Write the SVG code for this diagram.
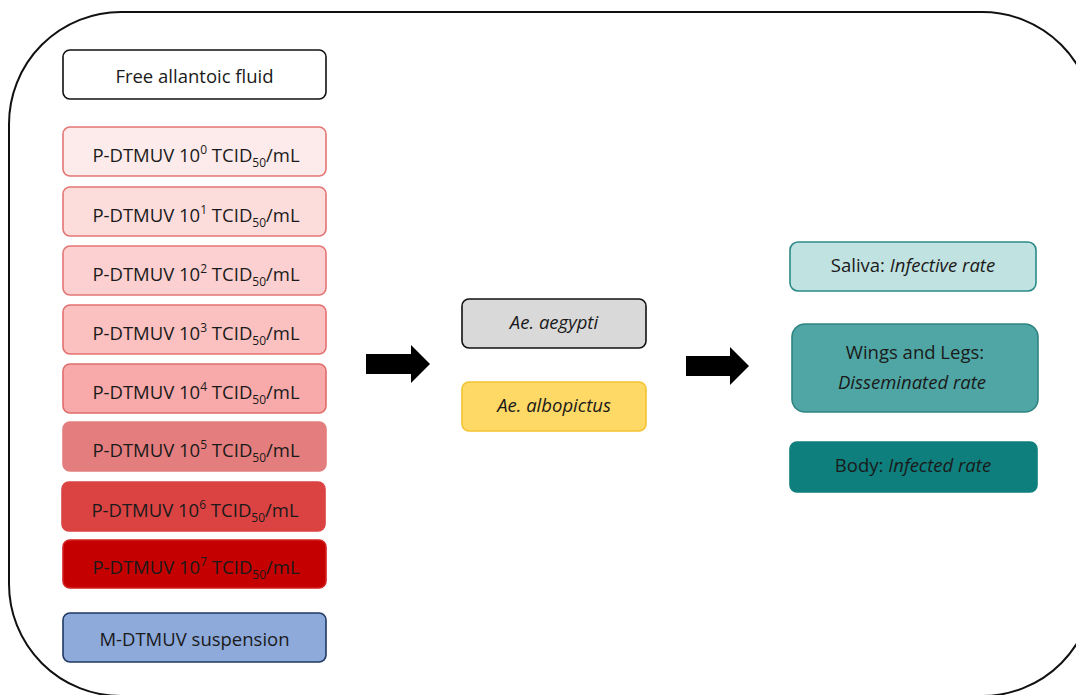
<svg xmlns="http://www.w3.org/2000/svg" width="1076" height="695" viewBox="0 0 1076 695">
<style>
text{font-family:"Open Sans","Noto Sans","Liberation Sans",sans-serif;font-size:18.5px;fill:#1a1a1a;text-anchor:middle}
.it{font-style:italic}
.b{stroke-width:1.6}
.p rect{stroke-width:1.6}
.s{font-size:12px}
</style>
<rect x="0" y="0" width="1076" height="695" fill="#ffffff"/>
<rect id="frame" x="9" y="12" width="1085" height="684" rx="112" ry="112" fill="none" stroke="#111" stroke-width="2"/>

<g id="free"><rect x="63" y="50" width="263" height="49" rx="7" fill="#fff" stroke="#111" class="b"/><text x="194.5" y="83">Free allantoic fluid</text></g>

<g id="p0" class="p"><rect x="63" y="127" width="263" height="49" rx="7" fill="#fdeaea" stroke="#e37575"/><text x="196" y="162">P-DTMUV 10<tspan dy="-8" class="s">0</tspan><tspan dy="8"> TCID</tspan><tspan dy="5" class="s">50</tspan><tspan dy="-5">/mL</tspan></text></g>
<g id="p1" class="p"><rect x="63" y="187" width="263" height="49" rx="7" fill="#fddcdc" stroke="#e37575"/><text x="196" y="222">P-DTMUV 10<tspan dy="-8" class="s">1</tspan><tspan dy="8"> TCID</tspan><tspan dy="5" class="s">50</tspan><tspan dy="-5">/mL</tspan></text></g>
<g id="p2" class="p"><rect x="63" y="246" width="263" height="49" rx="7" fill="#fcd0d0" stroke="#e37575"/><text x="196" y="281">P-DTMUV 10<tspan dy="-8" class="s">2</tspan><tspan dy="8"> TCID</tspan><tspan dy="5" class="s">50</tspan><tspan dy="-5">/mL</tspan></text></g>
<g id="p3" class="p"><rect x="63" y="305" width="263" height="49" rx="7" fill="#fbc0c0" stroke="#e37070"/><text x="196" y="340">P-DTMUV 10<tspan dy="-8" class="s">3</tspan><tspan dy="8"> TCID</tspan><tspan dy="5" class="s">50</tspan><tspan dy="-5">/mL</tspan></text></g>
<g id="p4" class="p"><rect x="63" y="364" width="263" height="49" rx="7" fill="#f8a9a9" stroke="#e06c6c"/><text x="196" y="399">P-DTMUV 10<tspan dy="-8" class="s">4</tspan><tspan dy="8"> TCID</tspan><tspan dy="5" class="s">50</tspan><tspan dy="-5">/mL</tspan></text></g>
<g id="p5" class="p"><rect x="63" y="422" width="263" height="49" rx="7" fill="#e47e7e" stroke="#e47e7e"/><text x="196" y="457">P-DTMUV 10<tspan dy="-8" class="s">5</tspan><tspan dy="8"> TCID</tspan><tspan dy="5" class="s">50</tspan><tspan dy="-5">/mL</tspan></text></g>
<g id="p6" class="p"><rect x="62" y="482" width="263" height="49" rx="7" fill="#db4343" stroke="#db4343"/><text x="195" y="517">P-DTMUV 10<tspan dy="-8" class="s">6</tspan><tspan dy="8"> TCID</tspan><tspan dy="5" class="s">50</tspan><tspan dy="-5">/mL</tspan></text></g>
<g id="p7" class="p"><rect x="63" y="540" width="263" height="48" rx="7" fill="#c40000" stroke="#d42020"/><text x="196" y="574">P-DTMUV 10<tspan dy="-8" class="s">7</tspan><tspan dy="8"> TCID</tspan><tspan dy="5" class="s">50</tspan><tspan dy="-5">/mL</tspan></text></g>

<g id="mdtmuv"><rect x="63" y="613" width="263" height="49" rx="7" fill="#8eaadb" stroke="#1f3864" class="b"/><text x="194.5" y="646">M-DTMUV suspension</text></g>

<g id="connectors" fill="#000">
<polygon points="366,354 411,354 411,345 430,364 411,383 411,374 366,374"/>
<polygon points="686,356 730,356 730,347 749,366 730,385 730,376 686,376"/>
</g>

<g id="aegypti"><rect x="462" y="299" width="184" height="49" rx="7" fill="#d9d9d9" stroke="#111" class="b"/><text x="554" y="329" class="it">Ae. aegypti</text></g>
<g id="albopictus"><rect x="462" y="382" width="184" height="49" rx="7" fill="#ffd966" stroke="#f2c330" class="b"/><text x="554" y="412" class="it">Ae. albopictus</text></g>

<g id="saliva"><rect x="790" y="242" width="246" height="49" rx="8" fill="#c0e2e0" stroke="#2a8a88" class="b"/><text x="913" y="272">Saliva: <tspan class="it">Infective rate</tspan></text></g>
<g id="wings"><rect x="792" y="324" width="246" height="88" rx="13" fill="#4fa6a4" stroke="#2f8482" class="b"/><text x="915" y="359">Wings and Legs:</text><text x="912" y="389" class="it">Disseminated rate</text></g>
<g id="body"><rect x="790" y="442" width="247" height="50" rx="7" fill="#0e7f7d" stroke="#0e7f7d" class="b"/><text x="913" y="472">Body: <tspan class="it">Infected rate</tspan></text></g>
</svg>
